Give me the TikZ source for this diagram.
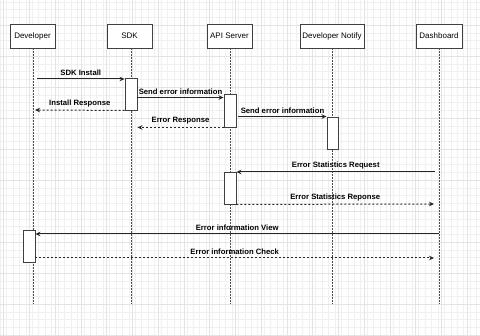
\documentclass[tikz,border=0pt]{standalone}
\usepackage{fontspec}
\setmainfont{Liberation Sans}
\usetikzlibrary{arrows.meta}

\tikzset{
  actor/.style={draw=black!75,fill=white,line width=0.9pt,minimum height=24pt,
    inner sep=1pt,font=\fontsize{8}{9}\selectfont},
  lifeline/.style={draw=black!70,line width=0.9pt,dash pattern=on 1.5pt off 1.5pt},
  activ/.style={draw=black!75,fill=white,line width=0.9pt,minimum width=12pt,
    minimum height=32pt,inner sep=0pt},
  msg/.style={draw=black!85,line width=1pt,-{Stealth[length=5pt,width=4.5pt]}},
  reply/.style={msg,dash pattern=on 2pt off 2pt},
  lbl/.style={font=\bfseries\fontsize{7.7}{9}\selectfont,inner sep=1pt,above=1.5pt}
}

\begin{document}
\begin{tikzpicture}[x=1pt,y=-1pt]
  \useasboundingbox (0,0) rectangle (480,336);
  \fill[white] (0,0) rectangle (480,336);
  % grid
  \foreach \gx in {0,6.44,...,480} \draw[black!6,line width=0.4pt] (\gx,0) -- (\gx,336);
  \foreach \gy in {1.75,9.5,...,336} \draw[black!6,line width=0.4pt] (0,\gy) -- (480,\gy);
  \foreach \gx in {3.5,29.25,...,480} \draw[black!11,line width=0.5pt] (\gx,0) -- (\gx,336);
  \foreach \gy in {25,56,...,336} \draw[black!11,line width=0.5pt] (0,\gy) -- (480,\gy);

  % participants
  \node[actor,minimum width=45pt] (dev) at (32.5,36) {Developer};
  \node[actor,minimum width=45pt] (sdk) at (129.5,36) {SDK};
  \node[actor,minimum width=45pt] (api) at (229.5,36) {API Server};
  \node[actor,minimum width=64pt] (notify) at (332,36) {Developer Notify};
  \node[actor,minimum width=46pt] (dash) at (439,36) {Dashboard};

  % lifelines
  \coordinate (devend) at (33,304);
  \coordinate (sdkend) at (131,304);
  \coordinate (apiend) at (230,304);
  \coordinate (notifyend) at (332,304);
  \coordinate (dashend) at (439,304);
  \draw[lifeline] (dev.south -| devend) -- (devend);
  \draw[lifeline] (sdk.south -| sdkend) -- (sdkend);
  \draw[lifeline] (api.south -| apiend) -- (apiend);
  \draw[lifeline] (notify.south -| notifyend) -- (notifyend);
  \draw[lifeline] (dash.south -| dashend) -- (dashend);

  % activations
  \node[activ] (sdka) at (131,94) {};
  \node[activ,minimum height=33pt] (apia) at (230,110.5) {};
  \node[activ,minimum width=11pt] (notifya) at (332.5,133) {};
  \node[activ] (apib) at (230,188) {};
  \node[activ] (deva) at (29,246) {};

  % messages
  \coordinate (installfrom) at (37,79);
  \coordinate (installback) at (35,110);
  \coordinate (statsfrom) at (435,172);
  \coordinate (statsto) at (434,204);
  \coordinate (viewfrom) at (439,234);
  \coordinate (checkto) at (434,258);

  \draw[msg] (installfrom) -- (sdka.west |- installfrom) node[lbl,midway] {SDK Install};
  \draw[reply] (sdka.south west) -- (installback) node[lbl,midway] {Install Response};
  \draw[msg] ([yshift=-4pt]apia.north west -| sdka.east) -- ([yshift=-4pt]apia.north west)
    node[lbl,midway] {Send error information};
  \draw[reply] (apia.south west) -- (apia.south west -| sdka.east)
    node[lbl,midway] {Error Response};
  \draw[msg] ([xshift=2pt]apia.east |- notifya.north) -- (notifya.north west)
    node[lbl,midway] {Send error information};
  \draw[msg] (statsfrom) -- (apib.north east |- statsfrom)
    node[lbl,midway] {Error Statistics Request};
  \draw[reply] (apib.south east) -- (statsto) node[lbl,midway] {Error Statistics Reponse};
  \draw[msg] (viewfrom) -- (deva.east |- viewfrom) node[lbl,midway] {Error information View};
  \draw[reply] (deva.east |- checkto) -- (checkto) node[lbl,midway] {Error information Check};
\end{tikzpicture}
\end{document}
